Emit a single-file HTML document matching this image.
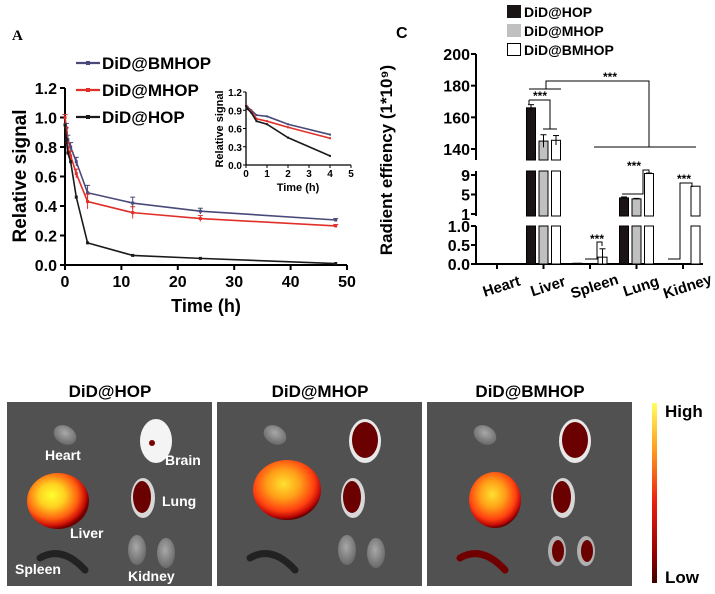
<!DOCTYPE html>
<html><head><meta charset="utf-8"><style>
body{margin:0;background:#fff;}
svg{display:block;font-family:"Liberation Sans",Arial,sans-serif;}
</style></head><body>
<svg id="fig" width="715" height="594" viewBox="0 0 715 594" xmlns="http://www.w3.org/2000/svg">
<defs>
<radialGradient id="liverG" cx="40%" cy="40%" r="60%"><stop offset="0" stop-color="#ffff30"/><stop offset="0.35" stop-color="#ffd020"/><stop offset="0.7" stop-color="#ff6010"/><stop offset="0.9" stop-color="#d01008"/><stop offset="1" stop-color="#700000"/></radialGradient>
<radialGradient id="liverG2" cx="45%" cy="40%" r="60%"><stop offset="0" stop-color="#ffe030"/><stop offset="0.4" stop-color="#ffa018"/><stop offset="0.75" stop-color="#ff4010"/><stop offset="0.92" stop-color="#c00808"/><stop offset="1" stop-color="#600000"/></radialGradient>
<radialGradient id="greyG" cx="45%" cy="40%" r="60%"><stop offset="0" stop-color="#a8a8a8"/><stop offset="1" stop-color="#6a6a6a"/></radialGradient>
<linearGradient id="cbar" x1="0" y1="0" x2="0" y2="1"><stop offset="0" stop-color="#ffff60"/><stop offset="0.25" stop-color="#ffa020"/><stop offset="0.55" stop-color="#e82010"/><stop offset="0.85" stop-color="#900000"/><stop offset="1" stop-color="#400000"/></linearGradient>
</defs>
<g id="panelA"></g>
<g id="panelC"></g>
<g id="panelB"></g>
</svg>
<script>
const NS="http://www.w3.org/2000/svg";
function mk(p,t,a,txt){const e=document.createElementNS(NS,t);for(const k in a)e.setAttribute(k,a[k]);if(txt!==undefined)e.textContent=txt;p.appendChild(e);return e;}

/* ---------- Panel A data ---------- */
const timesA=[0,0.25,0.5,1,2,4,12,24,48];
const bmhopA=[1.0,0.93,0.85,0.80,0.70,0.49,0.42,0.365,0.305];
const mhopA=[1.0,0.90,0.80,0.74,0.62,0.43,0.355,0.315,0.265];
const hopA=[0.95,0.85,0.76,0.70,0.46,0.15,0.065,0.045,0.01];
const errA=[0.02,0.03,0.03,0.03,0.03,0.05,0.04,0.02,0.01];
const xTicksA=[0,10,20,30,40,50];
const yTicksA=[0.0,0.2,0.4,0.6,0.8,1.0,1.2];
const timesIn=[0,0.08,0.25,0.5,1,2,4];
const bmhopIn=[1.0,0.95,0.90,0.82,0.80,0.67,0.50];
const mhopIn=[0.98,0.93,0.88,0.76,0.72,0.62,0.44];
const hopIn=[0.97,0.92,0.86,0.72,0.67,0.45,0.15];
const xTicksIn=[0,1,2,3,4,5];
const yTicksIn=[0.0,0.3,0.6,0.9,1.2];

const A=document.getElementById('panelA');

mk(A,'text',{x:12,y:40,'font-family':'Liberation Serif,serif','font-weight':'bold','font-size':15,},'A');
const ax=v=>65+v*(347-65)/50, ay=v=>265-v*(265-88)/1.2;
mk(A,'path',{d:`M65,88 V265 H347`,stroke:'#000','stroke-width':2,fill:'none',});
yTicksA.forEach(t=>{mk(A,'line',{x1:60,x2:65,y1:ay(t),y2:ay(t),stroke:'#000','stroke-width':2});
 const e=mk(A,'text',{x:57,y:ay(t)+6,'text-anchor':'end','font-weight':'bold','font-size':16},t.toFixed(1));});
xTicksA.forEach(t=>{mk(A,'line',{x1:ax(t),x2:ax(t),y1:265,y2:270,stroke:'#000','stroke-width':2});
 const e=mk(A,'text',{x:ax(t),y:287,'text-anchor':'middle','font-weight':'bold','font-size':16},t);});
mk(A,'text',{x:206,y:312,'text-anchor':'middle','font-weight':'bold','font-size':18,},'Time (h)');
mk(A,'text',{transform:'translate(26,176) rotate(-90)','text-anchor':'middle','font-weight':'bold','font-size':19,},'Relative signal');
function series(g,xs,ys,xf,yf,col,name,err,mark){
 const pts=xs.map((x,i)=>xf(x)+','+yf(ys[i])).join(' ');
 const l=mk(g,'polyline',{points:pts,fill:'none',stroke:col,'stroke-width':1.6});
 xs.forEach((x,i)=>{if(err){mk(g,'line',{x1:xf(x),x2:xf(x),y1:yf(ys[i]+err[i]),y2:yf(ys[i]-err[i]),stroke:col,'stroke-width':1});mk(g,'line',{x1:xf(x)-2.5,x2:xf(x)+2.5,y1:yf(ys[i]+err[i]),y2:yf(ys[i]+err[i]),stroke:col,'stroke-width':1});}
  const p=mk(g,'rect',{x:xf(x)-mark/2,y:yf(ys[i])-mark/2,width:mark,height:mark,fill:col});});
}
series(A,timesA,bmhopA,ax,ay,'#4a4a7a','bmhop',errA,3);
series(A,timesA,mhopA,ax,ay,'#e0302a','mhop',errA,3);
series(A,timesA,hopA,ax,ay,'#1a1a1a','hop',null,3);
[['DiD@BMHOP','#4a4a7a',63],['DiD@MHOP','#e0302a',90],['DiD@HOP','#1a1a1a',117]].forEach(([t,c,y])=>{
 const g=mk(A,'g',{});
 mk(g,'line',{x1:76,x2:100,y1:y,y2:y,stroke:c,'stroke-width':2.2});mk(g,'rect',{x:86,y:y-2,width:4,height:4,fill:c});
 mk(g,'text',{x:102,y:y+6,'font-weight':'bold','font-size':17},t);});
// inset
const ix=v=>246+v*(351-246)/5, iy=v=>165-v*(165-92)/1.2;
const I=mk(A,'g',{});
mk(I,'path',{d:'M246,92 V165 H351',stroke:'#000','stroke-width':1.3,fill:'none'});
yTicksIn.forEach(t=>{mk(I,'line',{x1:243,x2:246,y1:iy(t),y2:iy(t),stroke:'#000'});mk(I,'text',{x:242,y:iy(t)+4,'text-anchor':'end','font-weight':'bold','font-size':10},t.toFixed(1));});
xTicksIn.forEach(t=>{mk(I,'line',{x1:ix(t),x2:ix(t),y1:165,y2:168,stroke:'#000'});mk(I,'text',{x:ix(t),y:177,'text-anchor':'middle','font-weight':'bold','font-size':10},t);});
mk(I,'text',{x:298,y:191,'text-anchor':'middle','font-weight':'bold','font-size':11},'Time (h)');
mk(I,'text',{transform:'translate(223,129) rotate(-90)','text-anchor':'middle','font-weight':'bold','font-size':11},'Relative signal');
series(I,timesIn,bmhopIn,ix,iy,'#4a4a7a','inset-bmhop',null,2);
series(I,timesIn,mhopIn,ix,iy,'#e0302a','inset-mhop',null,2);
series(I,timesIn,hopIn,ix,iy,'#1a1a1a','inset-hop',null,2);

/* ---------- Panel C data ---------- */
const organsC=['Heart','Liver','Spleen','Lung','Kidney'];
const hopC=[0,166,0.02,4.3,0];
const mhopC=[0,145,0.01,4.1,0];
const bmhopC=[0,145.5,0.18,9.3,6.7];
const errC1=[0,2,0,0.2,0], errC2=[0,4,0,0.1,0], errC3=[0,3,0.22,0.1,0];
const C=document.getElementById('panelC');

mk(C,'text',{x:396,y:38,'font-weight':'bold','font-size':16,},'C');
const X0=476,Xend=703;
// segmented y scale
function cy(v){ if(v<=1) return 264-v*38; if(v<=10) return 214-(v-1)*(214-175)/8; return 149-(v-140)*(149-54)/60; }
const segs=[[264,226],[216,171],[160,54]];
segs.forEach(s=>mk(C,'line',{x1:X0,x2:X0,y1:s[0],y2:s[1],stroke:'#000','stroke-width':2,}));
[[0,'0.0'],[0.5,'0.5'],[1,'1.0'],[1.0001,'1'],[5,'5'],[9,'9'],[140,'140'],[160,'160'],[180,'180'],[200,'200']].forEach(([v,l])=>{
 let y=cy(v); if(l==='1')y=214;
 mk(C,'line',{x1:X0-5,x2:X0,y1:y,y2:y,stroke:'#000','stroke-width':2});
 const e=mk(C,'text',{x:X0-6,y:y+6,'text-anchor':'end','font-weight':'bold','font-size':16},l);});
mk(C,'line',{x1:X0,x2:Xend,y1:264,y2:264,stroke:'#000','stroke-width':2,});
mk(C,'text',{transform:'translate(392,160) rotate(-90)','text-anchor':'middle','font-weight':'bold','font-size':17,},'Radient effiency (1*10⁹)');
const cx=i=>497+i*46.5;
organsC.forEach((o,i)=>{mk(C,'line',{x1:cx(i),x2:cx(i),y1:264,y2:269,stroke:'#000','stroke-width':2});
 const e=mk(C,'text',{transform:`translate(${cx(i)+6},${291}) rotate(-18)`,'text-anchor':'middle','font-weight':'bold','font-size':15},o);});
function drawBar(i,off,v,err,fill,name){
 if(v<=0) return;
 const x=cx(i)+off-4.5, top=cy(v);
 // bar pieces clipped by breaks
 segs.forEach(s=>{const y1=Math.max(top,s[1]); if(y1<s[0]){const r=mk(C,'rect',{x:x,y:y1,width:9,height:s[0]-y1,fill:fill,stroke:'#000','stroke-width':1});}});
 if(err>0){const xc=x+4.5;mk(C,'line',{x1:xc,x2:xc,y1:cy(v+err),y2:cy(Math.max(v-err,0)),stroke:'#000'});mk(C,'line',{x1:xc-3,x2:xc+3,y1:cy(v+err),y2:cy(v+err),stroke:'#000'});}
}
organsC.forEach((o,i)=>{drawBar(i,-12.5,hopC[i],errC1[i],'#1a1414','bar-hop-'+o.toLowerCase());drawBar(i,0,mhopC[i],errC2[i],'#c0c0c0','bar-mhop-'+o.toLowerCase());drawBar(i,12.5,bmhopC[i],errC3[i],'#fff','bar-bmhop-'+o.toLowerCase());});
// significance brackets
const br=mk(C,'g',{fill:'none',stroke:'#000','stroke-width':1});
mk(br,'path',{d:'M529,100 H550 V129 M543,129 H557 M529,100 V104'});
mk(br,'path',{d:'M529,89 H561 M546,89 V81 H649 V147 M594,147 H696'});
mk(br,'path',{d:'M585,259 H597 V242 H602 V246'});
mk(br,'path',{d:'M622,194 H643 V170 H649 V174'});
mk(br,'path',{d:'M668,259 H680 V183 H692 V187'});
[[540,97],[610,78],[597,240],[634,167],[684,180]].forEach(([x,y])=>mk(C,'text',{x:x,y:y+3,'text-anchor':'middle','font-weight':'bold','font-size':12,},'***'));
[['DiD@HOP','#1a1414',5],['DiD@MHOP','#c0c0c0',24],['DiD@BMHOP','#fff',43]].forEach(([t,c,y])=>{
 const g=mk(C,'g',{});
 mk(g,'rect',{x:507.5,y:y+0.5,width:13,height:12,fill:c,stroke:c==='#fff'?'#000':c});
 mk(g,'text',{x:524,y:y+12,'font-weight':'bold','font-size':14},t);});

/* ---------- Panel B images ---------- */
const B=document.getElementById('panelB');

mk(B,'text',{x:12,y:412,'font-family':'Liberation Serif,serif','font-weight':'bold','font-size':15,},'B');
const titles=['DiD@HOP','DiD@MHOP','DiD@BMHOP'], offs=[7,217,427];
titles.forEach((t,k)=>{
 const o=offs[k]-7;
 mk(B,'text',{x:offs[k]+103,y:397,'text-anchor':'middle','font-weight':'bold','font-size':17,},t);
 const g=mk(B,'g',{});
 mk(g,'rect',{x:offs[k],y:402,width:205,height:184,fill:'#515151'});
 // heart
 mk(g,'ellipse',{cx:65+o,cy:435,rx:12,ry:9,fill:'url(#greyG)',transform:`rotate(30 ${65+o} 435)`});
 // brain
 if(k===0){mk(g,'ellipse',{cx:156,cy:441,rx:16,ry:22,fill:'#f4f4f4'});mk(g,'circle',{cx:152,cy:443,r:3,fill:'#7a0000'});}
 else{mk(g,'ellipse',{cx:155+o,cy:441,rx:16,ry:22,fill:'#e8e8e8'});mk(g,'ellipse',{cx:155+o,cy:440,rx:13,ry:18,fill:'#6a0000'});}
 // liver
 const lr=k===1?[77+o,490,34,30]:(k===2?[75+o,500,26,28]:[58,501,31,28]);
 mk(g,'ellipse',{cx:lr[0],cy:lr[1],rx:lr[2],ry:lr[3],fill:k===0?'url(#liverG)':'url(#liverG2)'});
 // lung
 mk(g,'ellipse',{cx:143+o,cy:498,rx:12,ry:20,fill:'#d8d8d8'});mk(g,'ellipse',{cx:142+o,cy:497,rx:9,ry:16,fill:'#6a0000'});
 // kidneys
 if(k===2){[[137,551],[166,551]].forEach(p=>{mk(g,'ellipse',{cx:p[0]+o,cy:p[1],rx:9,ry:15,fill:'#b0b0b0'});mk(g,'ellipse',{cx:p[0]+o+1,cy:p[1],rx:6,ry:11,fill:'#6a0000'});});}
 else{[[137,550],[166,553]].forEach(p=>mk(g,'ellipse',{cx:p[0]+o,cy:p[1],rx:9,ry:15,fill:'url(#greyG)'}));}
 // spleen
 mk(g,'path',{d:`M${40+o},558 Q${62+o},545 ${85+o},570`,stroke:k===2?'#700000':'#222',fill:'none','stroke-width':7,'stroke-linecap':'round'});
});
[['Heart',45,460],['Brain',165,465],['Lung',162,506],['Liver',70,538],['Spleen',15,574],['Kidney',128,581]].forEach(([t,x,y])=>mk(B,'text',{x:x,y:y,fill:'#fff','font-weight':'bold','font-size':14,},t));
mk(B,'rect',{x:652,y:403,width:5,height:180,fill:'url(#cbar)',});
mk(B,'text',{x:665,y:417,'font-weight':'bold','font-size':17,},'High');
mk(B,'text',{x:665,y:583,'font-weight':'bold','font-size':17,},'Low');
</script>
</body></html>
